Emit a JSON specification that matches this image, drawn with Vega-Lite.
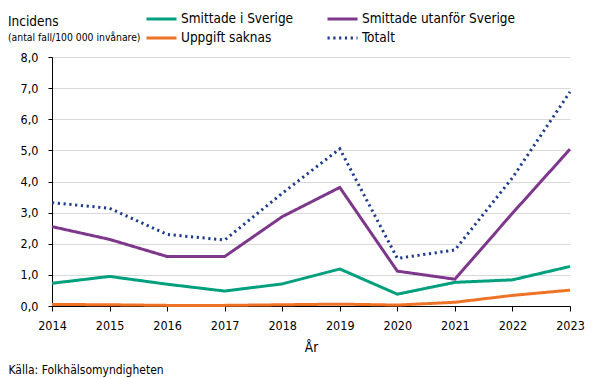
{
  "$schema": "https://vega.github.io/schema/vega-lite/v6.json",
  "width": 518,
  "height": 249,
  "autosize": {"type": "none"},
  "padding": {"left": 52, "top": 57, "right": 34, "bottom": 72},
  "background": "white",
  "title": {
    "text": "Incidens",
    "subtitle": "(antal fall/100 000 invånare)",
    "anchor": "start",
    "frame": "group",
    "dx": -44,
    "offset": -31,
    "font": "DejaVu Sans Condensed, DejaVu Sans",
    "fontSize": 13.5,
    "fontWeight": "normal",
    "color": "#000000",
    "subtitleFont": "DejaVu Sans Condensed, DejaVu Sans",
    "subtitleFontSize": 10.3,
    "subtitleColor": "#000000",
    "subtitlePadding": 4
  },
  "data": {
    "values": [
      {"year": 2014, "serie": "Smittade i Sverige", "value": 0.73},
      {"year": 2015, "serie": "Smittade i Sverige", "value": 0.95},
      {"year": 2016, "serie": "Smittade i Sverige", "value": 0.70},
      {"year": 2017, "serie": "Smittade i Sverige", "value": 0.48},
      {"year": 2018, "serie": "Smittade i Sverige", "value": 0.71},
      {"year": 2019, "serie": "Smittade i Sverige", "value": 1.19},
      {"year": 2020, "serie": "Smittade i Sverige", "value": 0.38},
      {"year": 2021, "serie": "Smittade i Sverige", "value": 0.76},
      {"year": 2022, "serie": "Smittade i Sverige", "value": 0.84},
      {"year": 2023, "serie": "Smittade i Sverige", "value": 1.27},
      {"year": 2014, "serie": "Smittade utanför Sverige", "value": 2.55},
      {"year": 2015, "serie": "Smittade utanför Sverige", "value": 2.14},
      {"year": 2016, "serie": "Smittade utanför Sverige", "value": 1.59},
      {"year": 2017, "serie": "Smittade utanför Sverige", "value": 1.59},
      {"year": 2018, "serie": "Smittade utanför Sverige", "value": 2.87},
      {"year": 2019, "serie": "Smittade utanför Sverige", "value": 3.81},
      {"year": 2020, "serie": "Smittade utanför Sverige", "value": 1.12},
      {"year": 2021, "serie": "Smittade utanför Sverige", "value": 0.86},
      {"year": 2022, "serie": "Smittade utanför Sverige", "value": 2.98},
      {"year": 2023, "serie": "Smittade utanför Sverige", "value": 5.04},
      {"year": 2014, "serie": "Uppgift saknas", "value": 0.05},
      {"year": 2015, "serie": "Uppgift saknas", "value": 0.04},
      {"year": 2016, "serie": "Uppgift saknas", "value": 0.02},
      {"year": 2017, "serie": "Uppgift saknas", "value": 0.02},
      {"year": 2018, "serie": "Uppgift saknas", "value": 0.04},
      {"year": 2019, "serie": "Uppgift saknas", "value": 0.06},
      {"year": 2020, "serie": "Uppgift saknas", "value": 0.03},
      {"year": 2021, "serie": "Uppgift saknas", "value": 0.12},
      {"year": 2022, "serie": "Uppgift saknas", "value": 0.34},
      {"year": 2023, "serie": "Uppgift saknas", "value": 0.51},
      {"year": 2014, "serie": "Totalt", "value": 3.32},
      {"year": 2015, "serie": "Totalt", "value": 3.14},
      {"year": 2016, "serie": "Totalt", "value": 2.30},
      {"year": 2017, "serie": "Totalt", "value": 2.12},
      {"year": 2018, "serie": "Totalt", "value": 3.62},
      {"year": 2019, "serie": "Totalt", "value": 5.05},
      {"year": 2020, "serie": "Totalt", "value": 1.53},
      {"year": 2021, "serie": "Totalt", "value": 1.80},
      {"year": 2022, "serie": "Totalt", "value": 4.12},
      {"year": 2023, "serie": "Totalt", "value": 6.88}
    ]
  },
  "mark": {"type": "line", "strokeWidth": 3, "strokeCap": "butt", "strokeJoin": "miter"},
  "encoding": {
    "x": {
      "field": "year",
      "type": "quantitative",
      "scale": {"domain": [2014, 2023], "nice": false, "zero": false},
      "axis": {
        "values": [2014, 2015, 2016, 2017, 2018, 2019, 2020, 2021, 2022, 2023],
        "format": "d",
        "title": "År",
        "grid": false,
        "domainColor": "#000000",
        "domainWidth": 1,
        "tickColor": "#000000",
        "tickSize": 5,
        "labelPadding": 8,
        "titlePadding": 9,
        "labelFlush": false
      }
    },
    "y": {
      "field": "value",
      "type": "quantitative",
      "scale": {"domain": [0, 8], "nice": false},
      "axis": {
        "values": [0, 1, 2, 3, 4, 5, 6, 7, 8],
        "labelExpr": "replace(format(datum.value, '.1f'), '.', ',')",
        "title": "Källa: Folkhälsomyndigheten",
        "titleAngle": 0,
        "titleX": -44,
        "titleY": 316,
        "titleAlign": "left",
        "titleBaseline": "alphabetic",
        "titleFontSize": 12,
        "titleFontWeight": "normal",
        "grid": true,
        "gridColor": "#d9d9d9",
        "gridWidth": 1,
        "domainColor": "#000000",
        "tickColor": "#000000",
        "tickSize": 4,
        "labelPadding": 10
      }
    },
    "color": {
      "field": "serie",
      "type": "nominal",
      "scale": {
        "domain": ["Smittade i Sverige", "Smittade utanför Sverige", "Uppgift saknas", "Totalt"],
        "range": ["#00A07E", "#7E388B", "#EE7326", "#1F3B8C"]
      },
      "legend": {
        "title": null,
        "orient": "none",
        "direction": "horizontal",
        "legendX": 93,
        "legendY": -45,
        "columns": 2,
        "columnPadding": 32,
        "rowPadding": 5,
        "clipHeight": 14,
        "symbolType": "stroke",
        "symbolSize": 900,
        "symbolStrokeWidth": 3,
        "labelOffset": 3,
        "labelFontSize": 13.5,
        "labelLimit": 300
      }
    },
    "strokeDash": {
      "field": "serie",
      "type": "nominal",
      "scale": {
        "domain": ["Smittade i Sverige", "Smittade utanför Sverige", "Uppgift saknas", "Totalt"],
        "range": [[1, 0], [1, 0], [1, 0], [2.2, 3.6]]
      },
      "legend": null
    }
  },
  "config": {
    "font": "DejaVu Sans Condensed, DejaVu Sans",
    "view": {"stroke": null},
    "axis": {
      "labelFont": "DejaVu Sans Condensed, DejaVu Sans",
      "titleFont": "DejaVu Sans Condensed, DejaVu Sans",
      "labelFontSize": 12.5,
      "titleFontSize": 13.5,
      "titleFontWeight": "normal",
      "labelColor": "#000000",
      "titleColor": "#000000"
    },
    "legend": {
      "labelFont": "DejaVu Sans Condensed, DejaVu Sans",
      "labelColor": "#000000"
    }
  }
}
